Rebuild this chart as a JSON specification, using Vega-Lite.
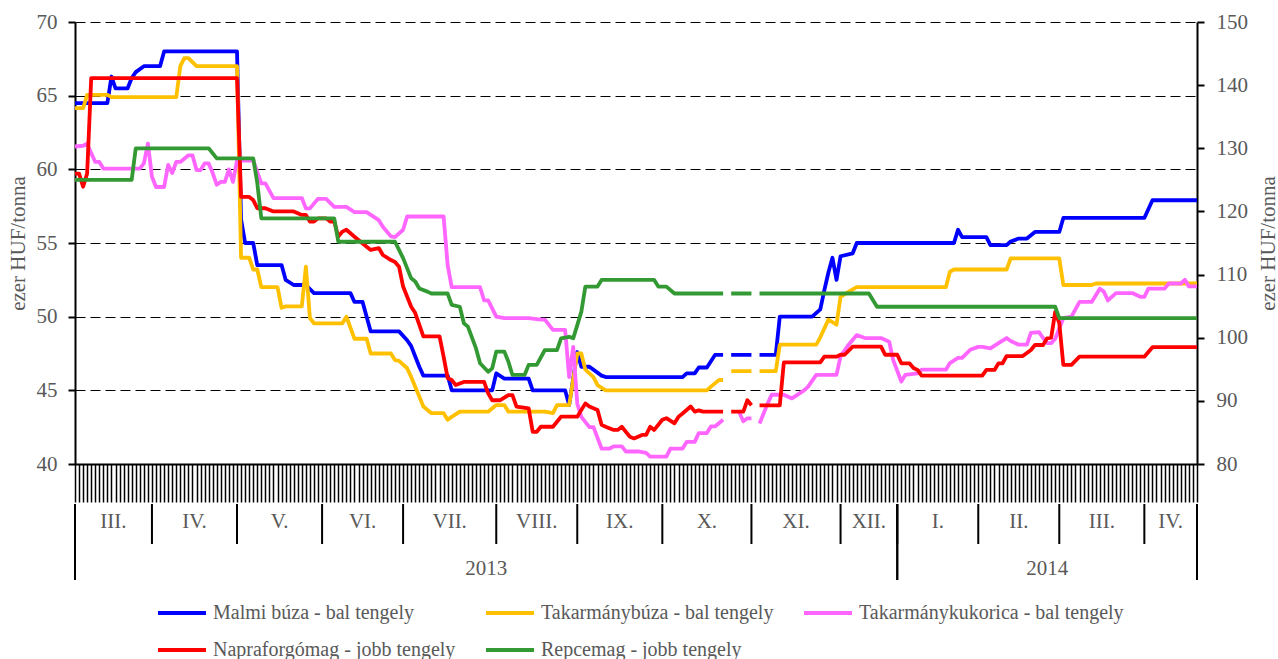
{
  "$schema": "https://vega.github.io/schema/vega-lite/v6.json",
  "background": "white",
  "padding": {"left": 7, "top": 11, "right": 0, "bottom": 0},
  "spacing": 0,
  "config": {
    "font": "Liberation Serif",
    "view": {"stroke": null},
    "axis": {
      "labelFont": "Liberation Serif",
      "labelFontSize": 21,
      "labelColor": "#595959",
      "titleFont": "Liberation Serif",
      "titleFontSize": 21,
      "titleFontWeight": "normal",
      "titleColor": "#595959",
      "domainColor": "#000000",
      "domainWidth": 2,
      "tickColor": "#000000"
    }
  },
  "datasets": {
    "bal": [
      {"nap":0,"sorozat":"Malmi búza - bal tengely","ar":64.5},{"nap":8,"sorozat":"Malmi búza - bal tengely","ar":64.5},{"nap":9,"sorozat":"Malmi búza - bal tengely","ar":66.3},{"nap":10,"sorozat":"Malmi búza - bal tengely","ar":65.5},{"nap":13,"sorozat":"Malmi búza - bal tengely","ar":65.5},{"nap":14,"sorozat":"Malmi búza - bal tengely","ar":66.2},{"nap":15,"sorozat":"Malmi búza - bal tengely","ar":66.6},{"nap":17,"sorozat":"Malmi búza - bal tengely","ar":67.0},{"nap":21,"sorozat":"Malmi búza - bal tengely","ar":67.0},{"nap":22,"sorozat":"Malmi búza - bal tengely","ar":68.0},{"nap":40,"sorozat":"Malmi búza - bal tengely","ar":68.0},{"nap":41,"sorozat":"Malmi búza - bal tengely","ar":56.6},{"nap":42,"sorozat":"Malmi búza - bal tengely","ar":55.0},{"nap":44,"sorozat":"Malmi búza - bal tengely","ar":55.0},{"nap":45,"sorozat":"Malmi búza - bal tengely","ar":53.5},{"nap":51,"sorozat":"Malmi búza - bal tengely","ar":53.5},{"nap":52,"sorozat":"Malmi búza - bal tengely","ar":52.5},{"nap":54,"sorozat":"Malmi búza - bal tengely","ar":52.15},{"nap":57,"sorozat":"Malmi búza - bal tengely","ar":52.15},{"nap":59,"sorozat":"Malmi búza - bal tengely","ar":51.6},{"nap":68,"sorozat":"Malmi búza - bal tengely","ar":51.6},{"nap":69,"sorozat":"Malmi búza - bal tengely","ar":51.0},{"nap":71,"sorozat":"Malmi búza - bal tengely","ar":51.0},{"nap":73,"sorozat":"Malmi búza - bal tengely","ar":49.0},{"nap":80,"sorozat":"Malmi búza - bal tengely","ar":49.0},{"nap":82,"sorozat":"Malmi búza - bal tengely","ar":48.4},{"nap":83,"sorozat":"Malmi búza - bal tengely","ar":48.0},{"nap":84,"sorozat":"Malmi búza - bal tengely","ar":47.3},{"nap":85,"sorozat":"Malmi búza - bal tengely","ar":46.6},{"nap":86,"sorozat":"Malmi búza - bal tengely","ar":46.0},{"nap":92,"sorozat":"Malmi búza - bal tengely","ar":46.0},{"nap":93,"sorozat":"Malmi búza - bal tengely","ar":45.0},{"nap":103,"sorozat":"Malmi búza - bal tengely","ar":45.0},{"nap":104,"sorozat":"Malmi búza - bal tengely","ar":46.15},{"nap":106,"sorozat":"Malmi búza - bal tengely","ar":45.8},{"nap":112,"sorozat":"Malmi búza - bal tengely","ar":45.8},{"nap":113,"sorozat":"Malmi búza - bal tengely","ar":45.0},{"nap":121,"sorozat":"Malmi búza - bal tengely","ar":45.0},{"nap":122,"sorozat":"Malmi búza - bal tengely","ar":44.0},{"nap":124,"sorozat":"Malmi búza - bal tengely","ar":47.6},{"nap":125,"sorozat":"Malmi búza - bal tengely","ar":46.6},{"nap":127,"sorozat":"Malmi búza - bal tengely","ar":46.6},{"nap":130,"sorozat":"Malmi búza - bal tengely","ar":46.0},{"nap":131,"sorozat":"Malmi búza - bal tengely","ar":45.9},{"nap":150,"sorozat":"Malmi búza - bal tengely","ar":45.9},{"nap":151,"sorozat":"Malmi búza - bal tengely","ar":46.15},{"nap":153,"sorozat":"Malmi búza - bal tengely","ar":46.15},{"nap":154,"sorozat":"Malmi búza - bal tengely","ar":46.55},{"nap":156,"sorozat":"Malmi búza - bal tengely","ar":46.55},{"nap":158,"sorozat":"Malmi búza - bal tengely","ar":47.4},{"nap":160,"sorozat":"Malmi búza - bal tengely","ar":47.4},{"nap":161,"sorozat":"Malmi búza - bal tengely","ar":null},{"nap":162,"sorozat":"Malmi búza - bal tengely","ar":47.4},{"nap":167,"sorozat":"Malmi búza - bal tengely","ar":47.4},{"nap":168,"sorozat":"Malmi búza - bal tengely","ar":null},{"nap":169,"sorozat":"Malmi búza - bal tengely","ar":47.4},{"nap":173,"sorozat":"Malmi búza - bal tengely","ar":47.4},{"nap":174,"sorozat":"Malmi búza - bal tengely","ar":50.0},{"nap":182,"sorozat":"Malmi búza - bal tengely","ar":50.0},{"nap":184,"sorozat":"Malmi búza - bal tengely","ar":50.5},{"nap":185,"sorozat":"Malmi búza - bal tengely","ar":51.8},{"nap":186,"sorozat":"Malmi búza - bal tengely","ar":53.0},{"nap":187,"sorozat":"Malmi búza - bal tengely","ar":54.0},{"nap":188,"sorozat":"Malmi búza - bal tengely","ar":52.5},{"nap":189,"sorozat":"Malmi búza - bal tengely","ar":54.1},{"nap":192,"sorozat":"Malmi búza - bal tengely","ar":54.3},{"nap":193,"sorozat":"Malmi búza - bal tengely","ar":55.0},{"nap":217,"sorozat":"Malmi búza - bal tengely","ar":55.0},{"nap":218,"sorozat":"Malmi búza - bal tengely","ar":55.9},{"nap":219,"sorozat":"Malmi búza - bal tengely","ar":55.4},{"nap":225,"sorozat":"Malmi búza - bal tengely","ar":55.4},{"nap":226,"sorozat":"Malmi búza - bal tengely","ar":54.85},{"nap":230,"sorozat":"Malmi búza - bal tengely","ar":54.85},{"nap":231,"sorozat":"Malmi búza - bal tengely","ar":55.1},{"nap":233,"sorozat":"Malmi búza - bal tengely","ar":55.3},{"nap":235,"sorozat":"Malmi búza - bal tengely","ar":55.3},{"nap":237,"sorozat":"Malmi búza - bal tengely","ar":55.75},{"nap":243,"sorozat":"Malmi búza - bal tengely","ar":55.75},{"nap":244,"sorozat":"Malmi búza - bal tengely","ar":56.7},{"nap":264,"sorozat":"Malmi búza - bal tengely","ar":56.7},{"nap":266,"sorozat":"Malmi búza - bal tengely","ar":57.9},{"nap":277,"sorozat":"Malmi búza - bal tengely","ar":57.9},

      {"nap":0,"sorozat":"Takarmánybúza - bal tengely","ar":64.15},{"nap":2,"sorozat":"Takarmánybúza - bal tengely","ar":64.15},{"nap":3,"sorozat":"Takarmánybúza - bal tengely","ar":65.05},{"nap":8,"sorozat":"Takarmánybúza - bal tengely","ar":65.05},{"nap":9,"sorozat":"Takarmánybúza - bal tengely","ar":64.9},{"nap":25,"sorozat":"Takarmánybúza - bal tengely","ar":64.9},{"nap":26,"sorozat":"Takarmánybúza - bal tengely","ar":67.0},{"nap":27,"sorozat":"Takarmánybúza - bal tengely","ar":67.55},{"nap":28,"sorozat":"Takarmánybúza - bal tengely","ar":67.55},{"nap":30,"sorozat":"Takarmánybúza - bal tengely","ar":67.0},{"nap":40,"sorozat":"Takarmánybúza - bal tengely","ar":67.0},{"nap":41,"sorozat":"Takarmánybúza - bal tengely","ar":54.0},{"nap":43,"sorozat":"Takarmánybúza - bal tengely","ar":54.0},{"nap":44,"sorozat":"Takarmánybúza - bal tengely","ar":53.2},{"nap":45,"sorozat":"Takarmánybúza - bal tengely","ar":53.2},{"nap":46,"sorozat":"Takarmánybúza - bal tengely","ar":52.0},{"nap":50,"sorozat":"Takarmánybúza - bal tengely","ar":52.0},{"nap":51,"sorozat":"Takarmánybúza - bal tengely","ar":50.6},{"nap":52,"sorozat":"Takarmánybúza - bal tengely","ar":50.7},{"nap":56,"sorozat":"Takarmánybúza - bal tengely","ar":50.7},{"nap":57,"sorozat":"Takarmánybúza - bal tengely","ar":53.4},{"nap":58,"sorozat":"Takarmánybúza - bal tengely","ar":49.9},{"nap":59,"sorozat":"Takarmánybúza - bal tengely","ar":49.55},{"nap":66,"sorozat":"Takarmánybúza - bal tengely","ar":49.55},{"nap":67,"sorozat":"Takarmánybúza - bal tengely","ar":50.0},{"nap":69,"sorozat":"Takarmánybúza - bal tengely","ar":48.5},{"nap":72,"sorozat":"Takarmánybúza - bal tengely","ar":48.5},{"nap":73,"sorozat":"Takarmánybúza - bal tengely","ar":47.5},{"nap":78,"sorozat":"Takarmánybúza - bal tengely","ar":47.5},{"nap":79,"sorozat":"Takarmánybúza - bal tengely","ar":47.05},{"nap":80,"sorozat":"Takarmánybúza - bal tengely","ar":47.0},{"nap":82,"sorozat":"Takarmánybúza - bal tengely","ar":46.5},{"nap":83,"sorozat":"Takarmánybúza - bal tengely","ar":45.9},{"nap":86,"sorozat":"Takarmánybúza - bal tengely","ar":43.9},{"nap":88,"sorozat":"Takarmánybúza - bal tengely","ar":43.45},{"nap":91,"sorozat":"Takarmánybúza - bal tengely","ar":43.45},{"nap":92,"sorozat":"Takarmánybúza - bal tengely","ar":43.0},{"nap":93,"sorozat":"Takarmánybúza - bal tengely","ar":43.2},{"nap":95,"sorozat":"Takarmánybúza - bal tengely","ar":43.55},{"nap":102,"sorozat":"Takarmánybúza - bal tengely","ar":43.55},{"nap":104,"sorozat":"Takarmánybúza - bal tengely","ar":44.0},{"nap":106,"sorozat":"Takarmánybúza - bal tengely","ar":44.0},{"nap":107,"sorozat":"Takarmánybúza - bal tengely","ar":43.55},{"nap":116,"sorozat":"Takarmánybúza - bal tengely","ar":43.55},{"nap":118,"sorozat":"Takarmánybúza - bal tengely","ar":43.45},{"nap":119,"sorozat":"Takarmánybúza - bal tengely","ar":44.0},{"nap":122,"sorozat":"Takarmánybúza - bal tengely","ar":44.0},{"nap":124,"sorozat":"Takarmánybúza - bal tengely","ar":47.5},{"nap":125,"sorozat":"Takarmánybúza - bal tengely","ar":47.5},{"nap":126,"sorozat":"Takarmánybúza - bal tengely","ar":46.4},{"nap":128,"sorozat":"Takarmánybúza - bal tengely","ar":45.9},{"nap":129,"sorozat":"Takarmánybúza - bal tengely","ar":45.35},{"nap":131,"sorozat":"Takarmánybúza - bal tengely","ar":45.0},{"nap":156,"sorozat":"Takarmánybúza - bal tengely","ar":45.0},{"nap":157,"sorozat":"Takarmánybúza - bal tengely","ar":45.25},{"nap":159,"sorozat":"Takarmánybúza - bal tengely","ar":45.7},{"nap":160,"sorozat":"Takarmánybúza - bal tengely","ar":45.7},{"nap":161,"sorozat":"Takarmánybúza - bal tengely","ar":null},{"nap":162,"sorozat":"Takarmánybúza - bal tengely","ar":46.3},{"nap":167,"sorozat":"Takarmánybúza - bal tengely","ar":46.3},{"nap":168,"sorozat":"Takarmánybúza - bal tengely","ar":null},{"nap":169,"sorozat":"Takarmánybúza - bal tengely","ar":46.3},{"nap":173,"sorozat":"Takarmánybúza - bal tengely","ar":46.3},{"nap":174,"sorozat":"Takarmánybúza - bal tengely","ar":48.1},{"nap":183,"sorozat":"Takarmánybúza - bal tengely","ar":48.1},{"nap":184,"sorozat":"Takarmánybúza - bal tengely","ar":48.6},{"nap":186,"sorozat":"Takarmánybúza - bal tengely","ar":49.8},{"nap":188,"sorozat":"Takarmánybúza - bal tengely","ar":49.45},{"nap":189,"sorozat":"Takarmánybúza - bal tengely","ar":51.35},{"nap":191,"sorozat":"Takarmánybúza - bal tengely","ar":51.7},{"nap":193,"sorozat":"Takarmánybúza - bal tengely","ar":52.0},{"nap":215,"sorozat":"Takarmánybúza - bal tengely","ar":52.0},{"nap":216,"sorozat":"Takarmánybúza - bal tengely","ar":53.05},{"nap":217,"sorozat":"Takarmánybúza - bal tengely","ar":53.2},{"nap":230,"sorozat":"Takarmánybúza - bal tengely","ar":53.2},{"nap":231,"sorozat":"Takarmánybúza - bal tengely","ar":53.95},{"nap":243,"sorozat":"Takarmánybúza - bal tengely","ar":53.95},{"nap":244,"sorozat":"Takarmánybúza - bal tengely","ar":52.15},{"nap":251,"sorozat":"Takarmánybúza - bal tengely","ar":52.15},{"nap":252,"sorozat":"Takarmánybúza - bal tengely","ar":52.25},{"nap":277,"sorozat":"Takarmánybúza - bal tengely","ar":52.25},

      {"nap":0,"sorozat":"Takarmánykukorica - bal tengely","ar":61.55},{"nap":2,"sorozat":"Takarmánykukorica - bal tengely","ar":61.6},{"nap":3,"sorozat":"Takarmánykukorica - bal tengely","ar":61.75},{"nap":4,"sorozat":"Takarmánykukorica - bal tengely","ar":61.1},{"nap":5,"sorozat":"Takarmánykukorica - bal tengely","ar":60.5},{"nap":6,"sorozat":"Takarmánykukorica - bal tengely","ar":60.5},{"nap":7,"sorozat":"Takarmánykukorica - bal tengely","ar":60.05},{"nap":16,"sorozat":"Takarmánykukorica - bal tengely","ar":60.05},{"nap":17,"sorozat":"Takarmánykukorica - bal tengely","ar":60.4},{"nap":18,"sorozat":"Takarmánykukorica - bal tengely","ar":61.75},{"nap":19,"sorozat":"Takarmánykukorica - bal tengely","ar":59.5},{"nap":20,"sorozat":"Takarmánykukorica - bal tengely","ar":58.8},{"nap":22,"sorozat":"Takarmánykukorica - bal tengely","ar":58.8},{"nap":23,"sorozat":"Takarmánykukorica - bal tengely","ar":60.3},{"nap":24,"sorozat":"Takarmánykukorica - bal tengely","ar":59.75},{"nap":25,"sorozat":"Takarmánykukorica - bal tengely","ar":60.5},{"nap":26,"sorozat":"Takarmánykukorica - bal tengely","ar":60.5},{"nap":28,"sorozat":"Takarmánykukorica - bal tengely","ar":60.95},{"nap":29,"sorozat":"Takarmánykukorica - bal tengely","ar":60.95},{"nap":30,"sorozat":"Takarmánykukorica - bal tengely","ar":59.95},{"nap":31,"sorozat":"Takarmánykukorica - bal tengely","ar":59.95},{"nap":32,"sorozat":"Takarmánykukorica - bal tengely","ar":60.4},{"nap":33,"sorozat":"Takarmánykukorica - bal tengely","ar":60.4},{"nap":34,"sorozat":"Takarmánykukorica - bal tengely","ar":59.75},{"nap":35,"sorozat":"Takarmánykukorica - bal tengely","ar":58.95},{"nap":36,"sorozat":"Takarmánykukorica - bal tengely","ar":59.15},{"nap":37,"sorozat":"Takarmánykukorica - bal tengely","ar":59.15},{"nap":38,"sorozat":"Takarmánykukorica - bal tengely","ar":60.0},{"nap":39,"sorozat":"Takarmánykukorica - bal tengely","ar":59.15},{"nap":40,"sorozat":"Takarmánykukorica - bal tengely","ar":60.6},{"nap":44,"sorozat":"Takarmánykukorica - bal tengely","ar":60.6},{"nap":46,"sorozat":"Takarmánykukorica - bal tengely","ar":59.05},{"nap":47,"sorozat":"Takarmánykukorica - bal tengely","ar":59.05},{"nap":49,"sorozat":"Takarmánykukorica - bal tengely","ar":58.05},{"nap":56,"sorozat":"Takarmánykukorica - bal tengely","ar":58.05},{"nap":57,"sorozat":"Takarmánykukorica - bal tengely","ar":57.35},{"nap":58,"sorozat":"Takarmánykukorica - bal tengely","ar":57.35},{"nap":60,"sorozat":"Takarmánykukorica - bal tengely","ar":58.0},{"nap":62,"sorozat":"Takarmánykukorica - bal tengely","ar":58.0},{"nap":64,"sorozat":"Takarmánykukorica - bal tengely","ar":57.45},{"nap":67,"sorozat":"Takarmánykukorica - bal tengely","ar":57.45},{"nap":69,"sorozat":"Takarmánykukorica - bal tengely","ar":57.1},{"nap":72,"sorozat":"Takarmánykukorica - bal tengely","ar":57.1},{"nap":75,"sorozat":"Takarmánykukorica - bal tengely","ar":56.55},{"nap":76,"sorozat":"Takarmánykukorica - bal tengely","ar":56.1},{"nap":78,"sorozat":"Takarmánykukorica - bal tengely","ar":55.45},{"nap":79,"sorozat":"Takarmánykukorica - bal tengely","ar":55.4},{"nap":81,"sorozat":"Takarmánykukorica - bal tengely","ar":55.9},{"nap":82,"sorozat":"Takarmánykukorica - bal tengely","ar":56.8},{"nap":91,"sorozat":"Takarmánykukorica - bal tengely","ar":56.8},{"nap":92,"sorozat":"Takarmánykukorica - bal tengely","ar":53.5},{"nap":93,"sorozat":"Takarmánykukorica - bal tengely","ar":52.0},{"nap":100,"sorozat":"Takarmánykukorica - bal tengely","ar":52.0},{"nap":101,"sorozat":"Takarmánykukorica - bal tengely","ar":51.1},{"nap":102,"sorozat":"Takarmánykukorica - bal tengely","ar":51.1},{"nap":104,"sorozat":"Takarmánykukorica - bal tengely","ar":50.0},{"nap":106,"sorozat":"Takarmánykukorica - bal tengely","ar":49.9},{"nap":112,"sorozat":"Takarmánykukorica - bal tengely","ar":49.9},{"nap":115,"sorozat":"Takarmánykukorica - bal tengely","ar":49.8},{"nap":116,"sorozat":"Takarmánykukorica - bal tengely","ar":49.8},{"nap":118,"sorozat":"Takarmánykukorica - bal tengely","ar":49.1},{"nap":121,"sorozat":"Takarmánykukorica - bal tengely","ar":49.1},{"nap":122,"sorozat":"Takarmánykukorica - bal tengely","ar":45.9},{"nap":123,"sorozat":"Takarmánykukorica - bal tengely","ar":47.95},{"nap":124,"sorozat":"Takarmánykukorica - bal tengely","ar":44.1},{"nap":125,"sorozat":"Takarmánykukorica - bal tengely","ar":43.2},{"nap":127,"sorozat":"Takarmánykukorica - bal tengely","ar":42.5},{"nap":128,"sorozat":"Takarmánykukorica - bal tengely","ar":42.5},{"nap":130,"sorozat":"Takarmánykukorica - bal tengely","ar":41.05},{"nap":132,"sorozat":"Takarmánykukorica - bal tengely","ar":41.05},{"nap":133,"sorozat":"Takarmánykukorica - bal tengely","ar":41.2},{"nap":135,"sorozat":"Takarmánykukorica - bal tengely","ar":41.2},{"nap":136,"sorozat":"Takarmánykukorica - bal tengely","ar":40.85},{"nap":139,"sorozat":"Takarmánykukorica - bal tengely","ar":40.85},{"nap":141,"sorozat":"Takarmánykukorica - bal tengely","ar":40.75},{"nap":142,"sorozat":"Takarmánykukorica - bal tengely","ar":40.5},{"nap":146,"sorozat":"Takarmánykukorica - bal tengely","ar":40.5},{"nap":147,"sorozat":"Takarmánykukorica - bal tengely","ar":41.05},{"nap":150,"sorozat":"Takarmánykukorica - bal tengely","ar":41.05},{"nap":151,"sorozat":"Takarmánykukorica - bal tengely","ar":41.5},{"nap":153,"sorozat":"Takarmánykukorica - bal tengely","ar":41.5},{"nap":154,"sorozat":"Takarmánykukorica - bal tengely","ar":42.1},{"nap":156,"sorozat":"Takarmánykukorica - bal tengely","ar":42.1},{"nap":157,"sorozat":"Takarmánykukorica - bal tengely","ar":42.55},{"nap":158,"sorozat":"Takarmánykukorica - bal tengely","ar":42.55},{"nap":160,"sorozat":"Takarmánykukorica - bal tengely","ar":43.0},{"nap":161,"sorozat":"Takarmánykukorica - bal tengely","ar":null},{"nap":164,"sorozat":"Takarmánykukorica - bal tengely","ar":43.5},{"nap":165,"sorozat":"Takarmánykukorica - bal tengely","ar":42.9},{"nap":166,"sorozat":"Takarmánykukorica - bal tengely","ar":43.1},{"nap":167,"sorozat":"Takarmánykukorica - bal tengely","ar":43.1},{"nap":168,"sorozat":"Takarmánykukorica - bal tengely","ar":null},{"nap":169,"sorozat":"Takarmánykukorica - bal tengely","ar":42.75},{"nap":171,"sorozat":"Takarmánykukorica - bal tengely","ar":44.1},{"nap":172,"sorozat":"Takarmánykukorica - bal tengely","ar":44.7},{"nap":175,"sorozat":"Takarmánykukorica - bal tengely","ar":44.7},{"nap":177,"sorozat":"Takarmánykukorica - bal tengely","ar":44.45},{"nap":180,"sorozat":"Takarmánykukorica - bal tengely","ar":45.0},{"nap":181,"sorozat":"Takarmánykukorica - bal tengely","ar":45.25},{"nap":183,"sorozat":"Takarmánykukorica - bal tengely","ar":46.05},{"nap":188,"sorozat":"Takarmánykukorica - bal tengely","ar":46.05},{"nap":189,"sorozat":"Takarmánykukorica - bal tengely","ar":47.3},{"nap":191,"sorozat":"Takarmánykukorica - bal tengely","ar":48.1},{"nap":193,"sorozat":"Takarmánykukorica - bal tengely","ar":48.75},{"nap":195,"sorozat":"Takarmánykukorica - bal tengely","ar":48.55},{"nap":199,"sorozat":"Takarmánykukorica - bal tengely","ar":48.55},{"nap":201,"sorozat":"Takarmánykukorica - bal tengely","ar":48.3},{"nap":202,"sorozat":"Takarmánykukorica - bal tengely","ar":47.05},{"nap":204,"sorozat":"Takarmánykukorica - bal tengely","ar":45.6},{"nap":205,"sorozat":"Takarmánykukorica - bal tengely","ar":46.05},{"nap":208,"sorozat":"Takarmánykukorica - bal tengely","ar":46.15},{"nap":209,"sorozat":"Takarmánykukorica - bal tengely","ar":46.4},{"nap":215,"sorozat":"Takarmánykukorica - bal tengely","ar":46.4},{"nap":216,"sorozat":"Takarmánykukorica - bal tengely","ar":46.85},{"nap":218,"sorozat":"Takarmánykukorica - bal tengely","ar":47.2},{"nap":219,"sorozat":"Takarmánykukorica - bal tengely","ar":47.2},{"nap":221,"sorozat":"Takarmánykukorica - bal tengely","ar":47.75},{"nap":223,"sorozat":"Takarmánykukorica - bal tengely","ar":47.95},{"nap":224,"sorozat":"Takarmánykukorica - bal tengely","ar":47.95},{"nap":226,"sorozat":"Takarmánykukorica - bal tengely","ar":47.85},{"nap":228,"sorozat":"Takarmánykukorica - bal tengely","ar":48.2},{"nap":230,"sorozat":"Takarmánykukorica - bal tengely","ar":48.55},{"nap":231,"sorozat":"Takarmánykukorica - bal tengely","ar":48.35},{"nap":233,"sorozat":"Takarmánykukorica - bal tengely","ar":48.1},{"nap":235,"sorozat":"Takarmánykukorica - bal tengely","ar":48.1},{"nap":236,"sorozat":"Takarmánykukorica - bal tengely","ar":48.9},{"nap":238,"sorozat":"Takarmánykukorica - bal tengely","ar":48.95},{"nap":239,"sorozat":"Takarmánykukorica - bal tengely","ar":48.55},{"nap":240,"sorozat":"Takarmánykukorica - bal tengely","ar":48.2},{"nap":241,"sorozat":"Takarmánykukorica - bal tengely","ar":48.2},{"nap":242,"sorozat":"Takarmánykukorica - bal tengely","ar":48.5},{"nap":244,"sorozat":"Takarmánykukorica - bal tengely","ar":49.9},{"nap":246,"sorozat":"Takarmánykukorica - bal tengely","ar":50.0},{"nap":248,"sorozat":"Takarmánykukorica - bal tengely","ar":51.0},{"nap":251,"sorozat":"Takarmánykukorica - bal tengely","ar":51.0},{"nap":253,"sorozat":"Takarmánykukorica - bal tengely","ar":51.9},{"nap":254,"sorozat":"Takarmánykukorica - bal tengely","ar":51.7},{"nap":255,"sorozat":"Takarmánykukorica - bal tengely","ar":51.1},{"nap":257,"sorozat":"Takarmánykukorica - bal tengely","ar":51.6},{"nap":261,"sorozat":"Takarmánykukorica - bal tengely","ar":51.6},{"nap":263,"sorozat":"Takarmánykukorica - bal tengely","ar":51.35},{"nap":264,"sorozat":"Takarmánykukorica - bal tengely","ar":51.35},{"nap":265,"sorozat":"Takarmánykukorica - bal tengely","ar":51.9},{"nap":269,"sorozat":"Takarmánykukorica - bal tengely","ar":51.9},{"nap":270,"sorozat":"Takarmánykukorica - bal tengely","ar":52.25},{"nap":273,"sorozat":"Takarmánykukorica - bal tengely","ar":52.25},{"nap":274,"sorozat":"Takarmánykukorica - bal tengely","ar":52.5},{"nap":275,"sorozat":"Takarmánykukorica - bal tengely","ar":52.05},{"nap":277,"sorozat":"Takarmánykukorica - bal tengely","ar":52.05}
    ],
    "jobb": [
      {"nap":0,"sorozat":"Napraforgómag - jobb tengely","ar":126.0},{"nap":1,"sorozat":"Napraforgómag - jobb tengely","ar":126.0},{"nap":2,"sorozat":"Napraforgómag - jobb tengely","ar":123.9},{"nap":3,"sorozat":"Napraforgómag - jobb tengely","ar":126.0},{"nap":4,"sorozat":"Napraforgómag - jobb tengely","ar":141.1},{"nap":40,"sorozat":"Napraforgómag - jobb tengely","ar":141.1},{"nap":41,"sorozat":"Napraforgómag - jobb tengely","ar":122.3},{"nap":43,"sorozat":"Napraforgómag - jobb tengely","ar":122.3},{"nap":44,"sorozat":"Napraforgómag - jobb tengely","ar":121.8},{"nap":45,"sorozat":"Napraforgómag - jobb tengely","ar":120.5},{"nap":47,"sorozat":"Napraforgómag - jobb tengely","ar":120.5},{"nap":49,"sorozat":"Napraforgómag - jobb tengely","ar":120.0},{"nap":54,"sorozat":"Napraforgómag - jobb tengely","ar":120.0},{"nap":56,"sorozat":"Napraforgómag - jobb tengely","ar":119.45},{"nap":57,"sorozat":"Napraforgómag - jobb tengely","ar":119.45},{"nap":58,"sorozat":"Napraforgómag - jobb tengely","ar":118.4},{"nap":59,"sorozat":"Napraforgómag - jobb tengely","ar":118.4},{"nap":60,"sorozat":"Napraforgómag - jobb tengely","ar":118.9},{"nap":62,"sorozat":"Napraforgómag - jobb tengely","ar":118.9},{"nap":63,"sorozat":"Napraforgómag - jobb tengely","ar":118.4},{"nap":64,"sorozat":"Napraforgómag - jobb tengely","ar":118.4},{"nap":65,"sorozat":"Napraforgómag - jobb tengely","ar":116.0},{"nap":66,"sorozat":"Napraforgómag - jobb tengely","ar":116.8},{"nap":67,"sorozat":"Napraforgómag - jobb tengely","ar":117.1},{"nap":69,"sorozat":"Napraforgómag - jobb tengely","ar":116.0},{"nap":72,"sorozat":"Napraforgómag - jobb tengely","ar":114.4},{"nap":73,"sorozat":"Napraforgómag - jobb tengely","ar":113.9},{"nap":75,"sorozat":"Napraforgómag - jobb tengely","ar":114.2},{"nap":76,"sorozat":"Napraforgómag - jobb tengely","ar":113.1},{"nap":78,"sorozat":"Napraforgómag - jobb tengely","ar":112.3},{"nap":79,"sorozat":"Napraforgómag - jobb tengely","ar":112.0},{"nap":80,"sorozat":"Napraforgómag - jobb tengely","ar":111.25},{"nap":81,"sorozat":"Napraforgómag - jobb tengely","ar":108.1},{"nap":83,"sorozat":"Napraforgómag - jobb tengely","ar":104.9},{"nap":84,"sorozat":"Napraforgómag - jobb tengely","ar":103.9},{"nap":86,"sorozat":"Napraforgómag - jobb tengely","ar":100.2},{"nap":90,"sorozat":"Napraforgómag - jobb tengely","ar":100.2},{"nap":91,"sorozat":"Napraforgómag - jobb tengely","ar":97.0},{"nap":92,"sorozat":"Napraforgómag - jobb tengely","ar":93.6},{"nap":93,"sorozat":"Napraforgómag - jobb tengely","ar":93.3},{"nap":94,"sorozat":"Napraforgómag - jobb tengely","ar":92.5},{"nap":96,"sorozat":"Napraforgómag - jobb tengely","ar":93.0},{"nap":101,"sorozat":"Napraforgómag - jobb tengely","ar":93.0},{"nap":102,"sorozat":"Napraforgómag - jobb tengely","ar":91.2},{"nap":103,"sorozat":"Napraforgómag - jobb tengely","ar":90.1},{"nap":105,"sorozat":"Napraforgómag - jobb tengely","ar":90.1},{"nap":107,"sorozat":"Napraforgómag - jobb tengely","ar":90.9},{"nap":108,"sorozat":"Napraforgómag - jobb tengely","ar":90.9},{"nap":109,"sorozat":"Napraforgómag - jobb tengely","ar":89.1},{"nap":112,"sorozat":"Napraforgómag - jobb tengely","ar":88.8},{"nap":113,"sorozat":"Napraforgómag - jobb tengely","ar":85.1},{"nap":114,"sorozat":"Napraforgómag - jobb tengely","ar":85.1},{"nap":115,"sorozat":"Napraforgómag - jobb tengely","ar":85.9},{"nap":118,"sorozat":"Napraforgómag - jobb tengely","ar":85.9},{"nap":119,"sorozat":"Napraforgómag - jobb tengely","ar":86.7},{"nap":120,"sorozat":"Napraforgómag - jobb tengely","ar":87.5},{"nap":124,"sorozat":"Napraforgómag - jobb tengely","ar":87.5},{"nap":126,"sorozat":"Napraforgómag - jobb tengely","ar":89.6},{"nap":127,"sorozat":"Napraforgómag - jobb tengely","ar":89.1},{"nap":129,"sorozat":"Napraforgómag - jobb tengely","ar":88.55},{"nap":130,"sorozat":"Napraforgómag - jobb tengely","ar":86.2},{"nap":131,"sorozat":"Napraforgómag - jobb tengely","ar":85.9},{"nap":133,"sorozat":"Napraforgómag - jobb tengely","ar":85.4},{"nap":134,"sorozat":"Napraforgómag - jobb tengely","ar":85.4},{"nap":135,"sorozat":"Napraforgómag - jobb tengely","ar":85.9},{"nap":137,"sorozat":"Napraforgómag - jobb tengely","ar":84.3},{"nap":138,"sorozat":"Napraforgómag - jobb tengely","ar":84.05},{"nap":140,"sorozat":"Napraforgómag - jobb tengely","ar":84.6},{"nap":141,"sorozat":"Napraforgómag - jobb tengely","ar":84.6},{"nap":142,"sorozat":"Napraforgómag - jobb tengely","ar":85.9},{"nap":143,"sorozat":"Napraforgómag - jobb tengely","ar":85.4},{"nap":145,"sorozat":"Napraforgómag - jobb tengely","ar":87.0},{"nap":146,"sorozat":"Napraforgómag - jobb tengely","ar":87.25},{"nap":148,"sorozat":"Napraforgómag - jobb tengely","ar":86.45},{"nap":149,"sorozat":"Napraforgómag - jobb tengely","ar":87.5},{"nap":150,"sorozat":"Napraforgómag - jobb tengely","ar":88.0},{"nap":152,"sorozat":"Napraforgómag - jobb tengely","ar":89.1},{"nap":153,"sorozat":"Napraforgómag - jobb tengely","ar":88.3},{"nap":154,"sorozat":"Napraforgómag - jobb tengely","ar":88.5},{"nap":155,"sorozat":"Napraforgómag - jobb tengely","ar":88.3},{"nap":160,"sorozat":"Napraforgómag - jobb tengely","ar":88.3},{"nap":161,"sorozat":"Napraforgómag - jobb tengely","ar":null},{"nap":162,"sorozat":"Napraforgómag - jobb tengely","ar":88.3},{"nap":165,"sorozat":"Napraforgómag - jobb tengely","ar":88.3},{"nap":166,"sorozat":"Napraforgómag - jobb tengely","ar":90.1},{"nap":167,"sorozat":"Napraforgómag - jobb tengely","ar":89.3},{"nap":168,"sorozat":"Napraforgómag - jobb tengely","ar":null},{"nap":169,"sorozat":"Napraforgómag - jobb tengely","ar":89.3},{"nap":174,"sorozat":"Napraforgómag - jobb tengely","ar":89.3},{"nap":175,"sorozat":"Napraforgómag - jobb tengely","ar":96.1},{"nap":184,"sorozat":"Napraforgómag - jobb tengely","ar":96.1},{"nap":185,"sorozat":"Napraforgómag - jobb tengely","ar":97.0},{"nap":188,"sorozat":"Napraforgómag - jobb tengely","ar":97.0},{"nap":189,"sorozat":"Napraforgómag - jobb tengely","ar":97.3},{"nap":190,"sorozat":"Napraforgómag - jobb tengely","ar":97.3},{"nap":192,"sorozat":"Napraforgómag - jobb tengely","ar":98.6},{"nap":199,"sorozat":"Napraforgómag - jobb tengely","ar":98.6},{"nap":200,"sorozat":"Napraforgómag - jobb tengely","ar":97.3},{"nap":203,"sorozat":"Napraforgómag - jobb tengely","ar":97.3},{"nap":204,"sorozat":"Napraforgómag - jobb tengely","ar":95.95},{"nap":206,"sorozat":"Napraforgómag - jobb tengely","ar":95.95},{"nap":207,"sorozat":"Napraforgómag - jobb tengely","ar":95.2},{"nap":208,"sorozat":"Napraforgómag - jobb tengely","ar":94.9},{"nap":209,"sorozat":"Napraforgómag - jobb tengely","ar":94.0},{"nap":224,"sorozat":"Napraforgómag - jobb tengely","ar":94.0},{"nap":225,"sorozat":"Napraforgómag - jobb tengely","ar":94.9},{"nap":227,"sorozat":"Napraforgómag - jobb tengely","ar":94.9},{"nap":228,"sorozat":"Napraforgómag - jobb tengely","ar":95.95},{"nap":229,"sorozat":"Napraforgómag - jobb tengely","ar":95.95},{"nap":230,"sorozat":"Napraforgómag - jobb tengely","ar":97.1},{"nap":234,"sorozat":"Napraforgómag - jobb tengely","ar":97.1},{"nap":236,"sorozat":"Napraforgómag - jobb tengely","ar":98.05},{"nap":237,"sorozat":"Napraforgómag - jobb tengely","ar":98.85},{"nap":239,"sorozat":"Napraforgómag - jobb tengely","ar":98.85},{"nap":240,"sorozat":"Napraforgómag - jobb tengely","ar":99.9},{"nap":241,"sorozat":"Napraforgómag - jobb tengely","ar":100.0},{"nap":242,"sorozat":"Napraforgómag - jobb tengely","ar":104.1},{"nap":243,"sorozat":"Napraforgómag - jobb tengely","ar":102.3},{"nap":244,"sorozat":"Napraforgómag - jobb tengely","ar":95.7},{"nap":246,"sorozat":"Napraforgómag - jobb tengely","ar":95.7},{"nap":248,"sorozat":"Napraforgómag - jobb tengely","ar":97.0},{"nap":264,"sorozat":"Napraforgómag - jobb tengely","ar":97.0},{"nap":266,"sorozat":"Napraforgómag - jobb tengely","ar":98.5},{"nap":277,"sorozat":"Napraforgómag - jobb tengely","ar":98.5},

      {"nap":0,"sorozat":"Repcemag - jobb tengely","ar":125.0},{"nap":14,"sorozat":"Repcemag - jobb tengely","ar":125.0},{"nap":15,"sorozat":"Repcemag - jobb tengely","ar":130.0},{"nap":33,"sorozat":"Repcemag - jobb tengely","ar":130.0},{"nap":35,"sorozat":"Repcemag - jobb tengely","ar":128.4},{"nap":44,"sorozat":"Repcemag - jobb tengely","ar":128.4},{"nap":45,"sorozat":"Repcemag - jobb tengely","ar":124.5},{"nap":46,"sorozat":"Repcemag - jobb tengely","ar":118.9},{"nap":64,"sorozat":"Repcemag - jobb tengely","ar":118.9},{"nap":65,"sorozat":"Repcemag - jobb tengely","ar":115.2},{"nap":79,"sorozat":"Repcemag - jobb tengely","ar":115.2},{"nap":80,"sorozat":"Repcemag - jobb tengely","ar":113.9},{"nap":81,"sorozat":"Repcemag - jobb tengely","ar":112.6},{"nap":83,"sorozat":"Repcemag - jobb tengely","ar":109.4},{"nap":84,"sorozat":"Repcemag - jobb tengely","ar":108.9},{"nap":85,"sorozat":"Repcemag - jobb tengely","ar":107.8},{"nap":87,"sorozat":"Repcemag - jobb tengely","ar":107.3},{"nap":88,"sorozat":"Repcemag - jobb tengely","ar":107.0},{"nap":92,"sorozat":"Repcemag - jobb tengely","ar":107.0},{"nap":93,"sorozat":"Repcemag - jobb tengely","ar":105.2},{"nap":95,"sorozat":"Repcemag - jobb tengely","ar":104.9},{"nap":96,"sorozat":"Repcemag - jobb tengely","ar":102.3},{"nap":97,"sorozat":"Repcemag - jobb tengely","ar":101.75},{"nap":99,"sorozat":"Repcemag - jobb tengely","ar":98.3},{"nap":100,"sorozat":"Repcemag - jobb tengely","ar":95.95},{"nap":102,"sorozat":"Repcemag - jobb tengely","ar":94.6},{"nap":103,"sorozat":"Repcemag - jobb tengely","ar":95.15},{"nap":104,"sorozat":"Repcemag - jobb tengely","ar":97.8},{"nap":106,"sorozat":"Repcemag - jobb tengely","ar":97.8},{"nap":107,"sorozat":"Repcemag - jobb tengely","ar":96.2},{"nap":108,"sorozat":"Repcemag - jobb tengely","ar":94.1},{"nap":111,"sorozat":"Repcemag - jobb tengely","ar":94.1},{"nap":112,"sorozat":"Repcemag - jobb tengely","ar":95.7},{"nap":114,"sorozat":"Repcemag - jobb tengely","ar":95.7},{"nap":116,"sorozat":"Repcemag - jobb tengely","ar":98.05},{"nap":119,"sorozat":"Repcemag - jobb tengely","ar":98.05},{"nap":120,"sorozat":"Repcemag - jobb tengely","ar":99.9},{"nap":122,"sorozat":"Repcemag - jobb tengely","ar":100.15},{"nap":123,"sorozat":"Repcemag - jobb tengely","ar":99.9},{"nap":125,"sorozat":"Repcemag - jobb tengely","ar":104.1},{"nap":126,"sorozat":"Repcemag - jobb tengely","ar":108.1},{"nap":129,"sorozat":"Repcemag - jobb tengely","ar":108.1},{"nap":130,"sorozat":"Repcemag - jobb tengely","ar":109.15},{"nap":143,"sorozat":"Repcemag - jobb tengely","ar":109.15},{"nap":144,"sorozat":"Repcemag - jobb tengely","ar":108.1},{"nap":146,"sorozat":"Repcemag - jobb tengely","ar":108.1},{"nap":148,"sorozat":"Repcemag - jobb tengely","ar":107.0},{"nap":160,"sorozat":"Repcemag - jobb tengely","ar":107.0},{"nap":161,"sorozat":"Repcemag - jobb tengely","ar":null},{"nap":162,"sorozat":"Repcemag - jobb tengely","ar":107.0},{"nap":167,"sorozat":"Repcemag - jobb tengely","ar":107.0},{"nap":168,"sorozat":"Repcemag - jobb tengely","ar":null},{"nap":169,"sorozat":"Repcemag - jobb tengely","ar":107.0},{"nap":196,"sorozat":"Repcemag - jobb tengely","ar":107.0},{"nap":198,"sorozat":"Repcemag - jobb tengely","ar":104.9},{"nap":242,"sorozat":"Repcemag - jobb tengely","ar":104.9},{"nap":243,"sorozat":"Repcemag - jobb tengely","ar":103.1},{"nap":277,"sorozat":"Repcemag - jobb tengely","ar":103.1}
    ],
    "honapok": [
      {"ho":"III.","kezd":0,"veg":19},{"ho":"IV.","kezd":19,"veg":40},{"ho":"V.","kezd":40,"veg":61},{"ho":"VI.","kezd":61,"veg":81},{"ho":"VII.","kezd":81,"veg":104},{"ho":"VIII.","kezd":104,"veg":124},{"ho":"IX.","kezd":124,"veg":145},{"ho":"X.","kezd":145,"veg":167},{"ho":"XI.","kezd":167,"veg":189},{"ho":"XII.","kezd":189,"veg":203},{"ho":"I.","kezd":203,"veg":223},{"ho":"II.","kezd":223,"veg":243},{"ho":"III.","kezd":243,"veg":264},{"ho":"IV.","kezd":264,"veg":277}
    ],
    "evek": [
      {"ev":"2013","kezd":0,"veg":203},{"ev":"2014","kezd":203,"veg":277}
    ]
  },
  "vconcat": [
    {
      "width": 1122,
      "height": 442,
      "layer": [
        {
          "data": {"name": "bal"},
          "mark": {"type": "line", "strokeWidth": 3.8, "strokeJoin": "round"},
          "encoding": {
            "x": {"field": "nap", "type": "quantitative", "scale": {"domain": [0, 277], "nice": false, "zero": false},
                  "axis": {"title": null, "labels": false, "tickCount": 277, "tickSize": 38, "tickWidth": 1.5, "tickColor": "#000000", "grid": false, "domainWidth": 2}},
            "y": {"field": "ar", "type": "quantitative", "scale": {"domain": [40, 70], "nice": false, "zero": false},
                  "axis": {"title": "ezer HUF/tonna", "values": [40, 45, 50, 55, 60, 65, 70], "grid": true, "gridColor": "#000000", "gridDash": [10, 5], "gridWidth": 1, "tickSize": 7, "tickWidth": 2, "labelPadding": 11, "titlePadding": 8}},
            "color": {"field": "sorozat", "type": "nominal",
                      "scale": {"domain": ["Malmi búza - bal tengely", "Takarmánybúza - bal tengely", "Takarmánykukorica - bal tengely", "Napraforgómag - jobb tengely", "Repcemag - jobb tengely"],
                                "range": ["#0000FF", "#FFC000", "#FF66FF", "#FF0000", "#339933"]},
                      "legend": {"title": null, "orient": "none", "direction": "horizontal", "legendX": 81, "legendY": 565, "columns": 3, "columnPadding": 22, "rowPadding": 1,
                                 "symbolType": "stroke", "symbolSize": 2304, "symbolStrokeWidth": 4, "labelOffset": 5, "labelLimit": 500,
                                 "labelFont": "Liberation Serif", "labelFontSize": 20, "labelColor": "#595959", "padding": 0}}
          }
        },
        {
          "data": {"name": "jobb"},
          "mark": {"type": "line", "strokeWidth": 3.8, "strokeJoin": "round"},
          "encoding": {
            "x": {"field": "nap", "type": "quantitative", "scale": {"domain": [0, 277], "nice": false, "zero": false}},
            "y": {"field": "ar", "type": "quantitative", "scale": {"domain": [80, 150], "nice": false, "zero": false},
                  "axis": {"orient": "right", "title": "ezer HUF/tonna", "values": [80, 90, 100, 110, 120, 130, 140, 150], "grid": false, "tickSize": 7, "tickWidth": 2, "labelPadding": 12, "titlePadding": 10, "titleAngle": 270, "titleBaseline": "top"}},
            "color": {"field": "sorozat", "type": "nominal"}
          }
        }
      ],
      "resolve": {"scale": {"y": "independent"}}
    },
    {
      "width": 1122,
      "height": 76,
      "layer": [
        {
          "data": {"name": "honapok"},
          "mark": {"type": "rule", "color": "#000000", "strokeWidth": 2},
          "encoding": {
            "x": {"field": "kezd", "type": "quantitative", "scale": {"domain": [0, 277], "nice": false, "zero": false}, "axis": null},
            "y": {"datum": 1.9, "type": "quantitative", "scale": {"domain": [0, 1.9], "nice": false, "zero": false}, "axis": null},
            "y2": {"datum": 0.9}
          }
        },
        {
          "data": {"name": "honapok"},
          "transform": [{"calculate": "(datum.kezd + datum.veg) / 2", "as": "kozep"}],
          "mark": {"type": "text", "font": "Liberation Serif", "fontSize": 21, "color": "#595959", "align": "center", "baseline": "middle"},
          "encoding": {
            "x": {"field": "kozep", "type": "quantitative"},
            "y": {"datum": 1.45, "type": "quantitative"},
            "text": {"field": "ho"}
          }
        },
        {
          "data": {"name": "evek"},
          "mark": {"type": "rule", "color": "#000000", "strokeWidth": 2},
          "encoding": {
            "x": {"field": "kezd", "type": "quantitative"},
            "y": {"datum": 1.9, "type": "quantitative"},
            "y2": {"datum": 0}
          }
        },
        {
          "data": {"name": "evek"},
          "mark": {"type": "rule", "color": "#000000", "strokeWidth": 2},
          "encoding": {
            "x": {"field": "veg", "type": "quantitative"},
            "y": {"datum": 1.9, "type": "quantitative"},
            "y2": {"datum": 0}
          }
        },
        {
          "data": {"name": "evek"},
          "transform": [{"calculate": "(datum.kezd + datum.veg) / 2", "as": "kozep"}],
          "mark": {"type": "text", "font": "Liberation Serif", "fontSize": 21, "color": "#595959", "align": "center", "baseline": "middle"},
          "encoding": {
            "x": {"field": "kozep", "type": "quantitative"},
            "y": {"datum": 0.275, "type": "quantitative"},
            "text": {"field": "ev"}
          }
        }
      ]
    }
  ]
}
